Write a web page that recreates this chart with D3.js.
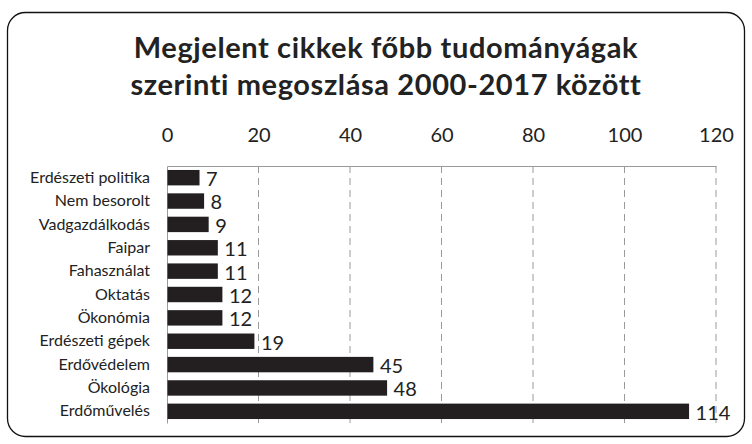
<!DOCTYPE html>
<html>
<head>
<meta charset="utf-8">
<script src="https://cdn.jsdelivr.net/npm/d3@7"></script>
<style>
  body { margin: 0; background: #fff; }
  svg text { font-family: Lato, "Open Sans", sans-serif; fill: #222; }
</style>
</head>
<body>
<svg id="vis" width="752" height="444"></svg>
<script>
// chart data
const titleLines = ["Megjelent cikkek főbb tudományágak", "szerinti megoszlása 2000-2017 között"];
const categories = ["Erdészeti politika", "Nem besorolt", "Vadgazdálkodás", "Faipar", "Fahasználat",
    "Oktatás", "Ökonómia", "Erdészeti gépek", "Erdővédelem", "Ökológia", "Erdőművelés"];
const counts = [7, 8, 9, 11, 11, 12, 12, 19, 45, 48, 114];
const xTicks = [0, 20, 40, 60, 80, 100, 120];

const MARGINS = {top: 166, right: 36, bottom: 21, left: 167};

window.onload = function(){
    draw();
};

function draw(){
    const svg = d3.select("#vis");
    const width = 752, height = 444;

    // rounded outer frame
    svg.append("rect")
        .attr("x", 7.5).attr("y", 12.5)
        .attr("width", 737).attr("height", 424)
        .attr("rx", 18)
        .attr("fill", "none")
        .attr("stroke", "#111")
        .attr("stroke-width", 1.3);

    // title, two lines
    svg.append("text")
        .attr("text-anchor", "middle")
        .style("font-weight", "bold")
        .style("font-size", "29px")
        .style("letter-spacing", "0.6px")
        .selectAll("tspan")
        .data(titleLines)
        .enter()
        .append("tspan")
        .attr("x", 386)
        .attr("y", (d, i) => 58 + i * 37)
        .text(d => d);

    const x = d3.scaleLinear()
        .domain([0, 120])
        .range([MARGINS.left, width - MARGINS.right]);

    const y = d3.scaleBand()
        .domain(categories)
        .range([MARGINS.top, height - MARGINS.bottom])
        .paddingInner(0.34)
        .paddingOuter(0.17);

    // dashed gridlines
    svg.append("g")
        .selectAll("line")
        .data(xTicks.slice(1))
        .enter()
        .append("line")
        .attr("x1", d => x(d)).attr("x2", d => x(d))
        .attr("y1", MARGINS.top).attr("y2", height - MARGINS.bottom)
        .attr("stroke", "#9a9a9a")
        .attr("stroke-width", 1)
        .attr("stroke-dasharray", "7,5");

    // top axis with labels
    const xAxis = d3.axisTop(x)
        .tickValues(xTicks)
        .tickSize(0)
        .tickPadding(24);
    const gx = svg.append("g")
        .attr("transform", `translate(0, ${MARGINS.top})`)
        .call(xAxis);
    gx.select(".domain").attr("stroke", "#9a9a9a");
    gx.selectAll("text")
        .style("font-size", "20px")
        .style("font-family", "Lato, sans-serif")
        .attr("fill", "#222");

    // left axis with category names
    const yAxis = d3.axisLeft(y).tickSize(0).tickPadding(17);
    const gy = svg.append("g")
        .attr("transform", `translate(${MARGINS.left}, 0)`)
        .call(yAxis);
    gy.select(".domain").attr("stroke", "#9a9a9a");
    gy.selectAll("text")
        .style("font-size", "16px")
        .style("font-family", "Lato, sans-serif")
        .attr("fill", "#222");

    // bars
    svg.append("g")
        .selectAll("rect")
        .data(counts)
        .enter()
        .append("rect")
        .attr("x", x(0) + 0.5)
        .attr("y", (d, i) => y(categories[i]))
        .attr("width", d => x(d) - x(0))
        .attr("height", y.bandwidth())
        .attr("fill", "#231f20");

    // value labels
    svg.append("g")
        .selectAll("text")
        .data(counts)
        .enter()
        .append("text")
        .attr("x", d => x(d) + 7)
        .attr("y", (d, i) => y(categories[i]) + y.bandwidth() / 2)
        .attr("dy", "0.42em")
        .style("font-size", "20px")
        .text(d => d);
}
</script>
</body>
</html>
